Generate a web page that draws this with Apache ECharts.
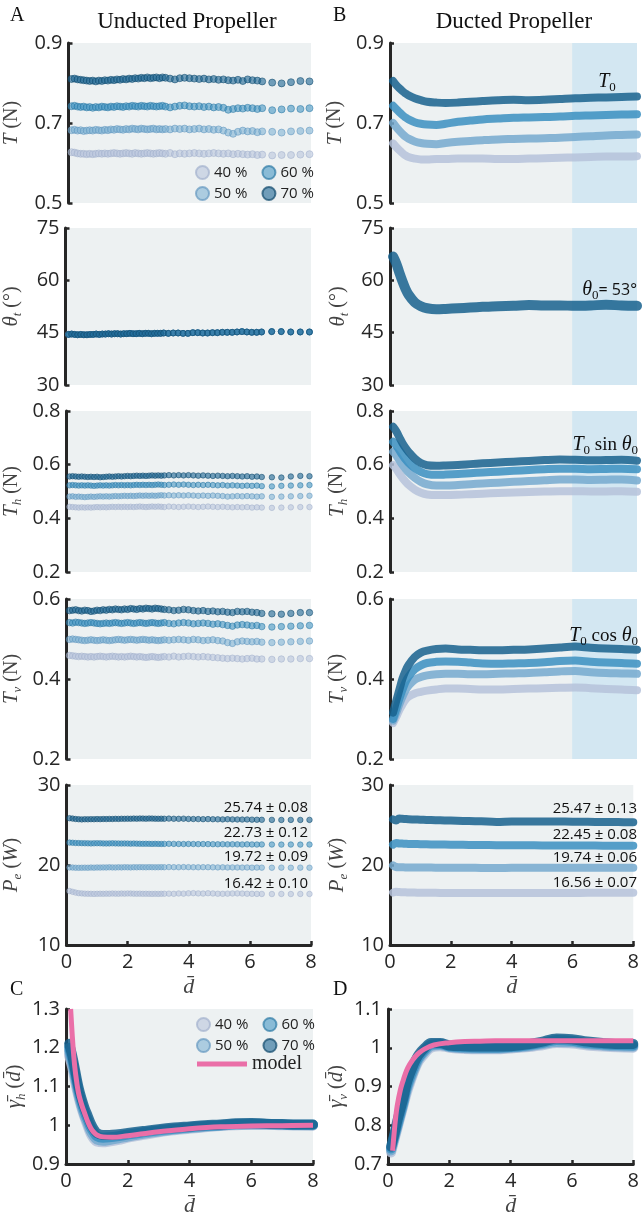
<!DOCTYPE html>
<html><head><meta charset="utf-8">
<script src="https://cdn.jsdelivr.net/npm/echarts@6/dist/echarts.min.js"></script>
<style>html,body{margin:0;padding:0;background:#fff}#c{width:642px;height:1218px}</style>
</head><body><div id="c"></div><script>
// ---------------- DATA ----------------
const seriesNames = ['40 %','50 %','60 %','70 %'];
const xTicks = [0,2,4,6,8];
const yTicksT = [0.5,0.7,0.9];
const yTicksTheta = [30,45,60,75];
const yTicksTh = [0.2,0.4,0.6,0.8];
const yTicksTv = [0.2,0.4,0.6];
const yTicksPe = [10,20,30];
const yTicksGh = [0.9,1,1.1,1.2,1.3];
const yTicksGv = [0.7,0.8,0.9,1,1.1];

// unducted sample positions (dense / medium / sparse)
const xU = [0.1,0.2,0.3,0.4,0.5,0.6,0.7,0.8,0.9,1.0,
  1.1,1.2,1.3,1.4,1.5,1.6,1.7,1.8,1.9,2.0,
  2.1,2.2,2.3,2.4,2.5,2.6,2.7,2.8,2.9,3.0,
  3.1,3.2,
  3.35,3.51,3.67,3.83,3.99,4.15,4.31,4.47,4.63,4.79,
  4.95,5.11,5.27,5.43,5.59,5.75,5.91,6.07,6.23,6.39,
  6.72,7.03,7.34,7.65,7.95];

const TU70 = [0.810,0.811,0.809,0.808,0.807,0.806,0.805,0.806,0.804,0.806,
  0.805,0.807,0.806,0.808,0.807,0.809,0.808,0.810,0.809,0.811,
  0.810,0.812,0.811,0.813,0.812,0.814,0.812,0.813,0.814,0.812,
  0.814,0.813,
  0.811,0.809,0.812,0.813,0.812,0.811,0.810,0.811,0.809,0.810,
  0.808,0.809,0.807,0.806,0.808,0.805,0.809,0.807,0.806,0.804,
  0.801,0.799,0.802,0.805,0.804];
const TU60 = [0.742,0.743,0.741,0.740,0.741,0.739,0.740,0.738,0.740,0.739,
  0.741,0.740,0.739,0.741,0.740,0.742,0.741,0.740,0.742,0.741,
  0.743,0.742,0.741,0.743,0.742,0.741,0.743,0.742,0.741,0.742,
  0.743,0.741,
  0.739,0.741,0.743,0.744,0.742,0.741,0.742,0.740,0.741,0.739,
  0.740,0.738,0.733,0.735,0.737,0.736,0.738,0.737,0.735,0.737,
  0.732,0.734,0.736,0.735,0.737];
const TU50 = [0.682,0.683,0.681,0.682,0.680,0.681,0.682,0.681,0.683,0.682,
  0.681,0.683,0.682,0.684,0.683,0.685,0.684,0.683,0.685,0.684,
  0.686,0.685,0.684,0.686,0.685,0.684,0.685,0.686,0.684,0.685,
  0.684,0.685,
  0.684,0.686,0.685,0.686,0.684,0.685,0.686,0.684,0.685,0.683,
  0.684,0.681,0.676,0.673,0.678,0.681,0.679,0.680,0.677,0.679,
  0.678,0.676,0.679,0.680,0.681];
const TU40 = [0.627,0.626,0.624,0.623,0.623,0.622,0.623,0.622,0.623,0.624,
  0.623,0.624,0.623,0.624,0.625,0.624,0.623,0.624,0.625,0.624,
  0.623,0.625,0.624,0.623,0.624,0.625,0.624,0.623,0.624,0.625,
  0.624,0.623,
  0.625,0.622,0.624,0.623,0.624,0.625,0.624,0.623,0.624,0.625,
  0.624,0.623,0.624,0.622,0.623,0.622,0.621,0.622,0.620,0.621,
  0.619,0.620,0.620,0.621,0.622];

const thetaU = [44.5,44.6,44.5,44.4,44.5,44.4,44.4,44.5,44.5,44.6,
  44.5,44.6,44.6,44.7,44.6,44.7,44.7,44.6,44.7,44.7,
  44.8,44.7,44.7,44.8,44.7,44.8,44.8,44.7,44.8,44.8,
  44.8,44.9,
  44.8,44.9,44.9,44.8,44.8,45.0,45.0,44.9,44.9,45.0,
  45.0,45.1,45.1,45.1,45.2,45.3,45.2,45.1,45.1,45.2,
  45.3,45.3,45.2,45.2,45.2];

const ThU70 = [0.556,0.557,0.556,0.555,0.556,0.555,0.554,0.555,0.554,0.555,
  0.553,0.554,0.555,0.556,0.555,0.556,0.557,0.556,0.557,0.558,
  0.557,0.558,0.559,0.558,0.559,0.558,0.559,0.560,0.559,0.560,
  0.559,0.560,
  0.561,0.560,0.561,0.560,0.561,0.560,0.559,0.560,0.559,0.558,
  0.559,0.558,0.557,0.558,0.557,0.556,0.557,0.555,0.556,0.554,
  0.553,0.552,0.556,0.558,0.557];
const ThU60 = [0.523,0.524,0.523,0.522,0.523,0.522,0.523,0.522,0.521,0.522,
  0.523,0.522,0.523,0.522,0.523,0.524,0.523,0.524,0.523,0.524,
  0.523,0.524,0.525,0.524,0.525,0.524,0.525,0.524,0.525,0.526,
  0.525,0.524,
  0.525,0.526,0.525,0.526,0.525,0.524,0.525,0.524,0.525,0.524,
  0.523,0.524,0.522,0.523,0.522,0.521,0.522,0.521,0.522,0.520,
  0.519,0.521,0.522,0.523,0.524];
const ThU50 = [0.481,0.482,0.480,0.481,0.480,0.479,0.480,0.481,0.480,0.481,
  0.482,0.481,0.482,0.481,0.482,0.483,0.482,0.483,0.484,0.483,
  0.484,0.483,0.484,0.485,0.484,0.485,0.484,0.485,0.484,0.485,
  0.486,0.485,
  0.486,0.485,0.486,0.485,0.486,0.485,0.484,0.485,0.484,0.485,
  0.484,0.483,0.481,0.482,0.483,0.482,0.483,0.482,0.481,0.482,
  0.480,0.481,0.482,0.483,0.484];
const ThU40 = [0.443,0.442,0.441,0.440,0.441,0.440,0.441,0.440,0.441,0.442,
  0.441,0.442,0.441,0.442,0.443,0.442,0.443,0.442,0.443,0.442,
  0.443,0.442,0.443,0.444,0.443,0.442,0.443,0.444,0.443,0.444,
  0.443,0.442,
  0.444,0.443,0.442,0.443,0.444,0.443,0.442,0.443,0.444,0.443,
  0.442,0.443,0.442,0.441,0.442,0.441,0.442,0.440,0.441,0.440,
  0.439,0.440,0.441,0.442,0.442];

const TvU70 = [0.571,0.572,0.573,0.571,0.570,0.572,0.571,0.569,0.570,0.572,
  0.571,0.573,0.572,0.574,0.573,0.575,0.574,0.573,0.575,0.574,
  0.576,0.575,0.574,0.576,0.575,0.577,0.576,0.575,0.577,0.576,
  0.575,0.574,
  0.573,0.571,0.572,0.574,0.573,0.571,0.570,0.571,0.569,0.570,
  0.568,0.569,0.567,0.566,0.569,0.568,0.569,0.567,0.566,0.564,
  0.563,0.562,0.564,0.566,0.566];
const TvU60 = [0.541,0.540,0.542,0.541,0.540,0.539,0.540,0.541,0.540,0.539,
  0.538,0.539,0.540,0.539,0.540,0.541,0.540,0.539,0.540,0.541,
  0.540,0.539,0.540,0.541,0.540,0.539,0.540,0.541,0.540,0.539,
  0.540,0.541,
  0.539,0.538,0.540,0.541,0.540,0.538,0.539,0.540,0.539,0.537,
  0.538,0.536,0.534,0.532,0.535,0.536,0.535,0.533,0.534,0.531,
  0.530,0.531,0.532,0.533,0.534];
const TvU50 = [0.499,0.500,0.499,0.498,0.497,0.496,0.497,0.498,0.497,0.496,
  0.497,0.498,0.497,0.496,0.497,0.498,0.499,0.498,0.497,0.498,
  0.499,0.498,0.497,0.498,0.499,0.498,0.497,0.498,0.497,0.496,
  0.497,0.498,
  0.497,0.498,0.499,0.498,0.497,0.499,0.498,0.496,0.497,0.498,
  0.496,0.495,0.491,0.489,0.493,0.495,0.494,0.493,0.494,0.492,
  0.491,0.492,0.493,0.494,0.495];
const TvU40 = [0.459,0.458,0.457,0.456,0.457,0.456,0.455,0.456,0.455,0.456,
  0.457,0.456,0.455,0.456,0.457,0.456,0.455,0.456,0.455,0.456,
  0.457,0.456,0.455,0.456,0.455,0.454,0.455,0.456,0.455,0.454,
  0.455,0.456,
  0.455,0.457,0.455,0.456,0.457,0.456,0.455,0.456,0.455,0.454,
  0.453,0.452,0.451,0.452,0.451,0.450,0.451,0.452,0.450,0.450,
  0.449,0.450,0.450,0.451,0.451];

const PeU70 = [25.85,25.80,25.75,25.72,25.70,25.72,25.71,25.73,25.72,25.74,
  25.73,25.75,25.74,25.76,25.75,25.77,25.76,25.78,25.77,25.79,
  25.78,25.80,25.79,25.81,25.80,25.79,25.81,25.80,25.79,25.78,
  25.79,25.78,
  25.80,25.78,25.77,25.79,25.76,25.75,25.74,25.73,25.74,25.72,
  25.71,25.70,25.72,25.70,25.69,25.68,25.69,25.67,25.66,25.65,
  25.64,25.63,25.64,25.63,25.64];
const PeU60 = [22.80,22.78,22.75,22.74,22.73,22.72,22.71,22.70,22.71,22.72,
  22.71,22.70,22.69,22.70,22.71,22.70,22.69,22.68,22.69,22.68,
  22.67,22.68,22.67,22.66,22.65,22.66,22.65,22.64,22.65,22.64,
  22.63,22.64,
  22.65,22.64,22.63,22.62,22.63,22.62,22.61,22.62,22.61,22.60,
  22.59,22.60,22.58,22.59,22.58,22.57,22.58,22.57,22.56,22.57,
  22.56,22.55,22.56,22.55,22.56];
const PeU50 = [19.70,19.68,19.66,19.65,19.66,19.67,19.66,19.68,19.67,19.69,
  19.68,19.70,19.69,19.71,19.70,19.69,19.71,19.70,19.72,19.71,
  19.70,19.72,19.71,19.73,19.72,19.71,19.73,19.72,19.71,19.72,
  19.73,19.72,
  19.74,19.73,19.72,19.74,19.73,19.72,19.71,19.73,19.72,19.71,
  19.70,19.71,19.69,19.70,19.69,19.68,19.69,19.67,19.68,19.67,
  19.66,19.67,19.66,19.67,19.66];
const PeU40 = [16.75,16.65,16.55,16.48,16.45,16.42,16.41,16.40,16.39,16.40,
  16.41,16.40,16.42,16.41,16.43,16.42,16.41,16.43,16.42,16.44,
  16.43,16.42,16.41,16.42,16.40,16.41,16.40,16.39,16.40,16.39,
  16.40,16.41,
  16.42,16.40,16.44,16.42,16.46,16.48,16.45,16.43,16.47,16.44,
  16.41,16.40,16.42,16.44,16.45,16.43,16.41,16.40,16.39,16.38,
  16.37,16.38,16.37,16.38,16.38];

// ducted sample positions
const xD = [0.1,0.2,0.3,0.4,0.5,0.6,0.8,1.0,1.2,1.5,
  1.8,2.2,2.6,3.0,3.5,4.0,4.5,5.0,5.5,6.0,
  6.5,7.0,7.5,8.0];
const TD70 = [0.805,0.795,0.787,0.780,0.774,0.769,0.762,0.757,0.753,0.751,0.750,0.751,0.753,0.755,0.757,0.758,0.757,0.758,0.760,0.762,0.763,0.764,0.765,0.766];
const TD60 = [0.743,0.735,0.727,0.720,0.714,0.709,0.702,0.698,0.696,0.695,0.698,0.703,0.706,0.709,0.711,0.713,0.714,0.715,0.716,0.718,0.719,0.720,0.721,0.722];
const TD50 = [0.700,0.690,0.681,0.673,0.666,0.661,0.654,0.650,0.648,0.647,0.650,0.653,0.655,0.657,0.659,0.660,0.661,0.662,0.663,0.665,0.667,0.669,0.670,0.671];
const TD40 = [0.649,0.640,0.632,0.625,0.619,0.615,0.611,0.609,0.609,0.610,0.610,0.611,0.611,0.611,0.610,0.610,0.611,0.612,0.613,0.614,0.615,0.616,0.616,0.617];
const thetaD = [66.8,64.9,62.3,59.8,57.6,55.9,53.7,52.6,52.0,51.7,51.8,52.0,52.2,52.4,52.6,52.7,52.9,52.8,52.8,52.7,52.8,53.0,52.8,52.7];
const ThD70 = [0.741,0.725,0.703,0.681,0.663,0.648,0.623,0.606,0.598,0.596,0.597,0.599,0.602,0.605,0.608,0.611,0.614,0.617,0.619,0.618,0.616,0.617,0.618,0.615];
const ThD60 = [0.685,0.672,0.654,0.636,0.620,0.607,0.587,0.573,0.565,0.562,0.563,0.565,0.568,0.571,0.574,0.577,0.580,0.583,0.585,0.585,0.583,0.584,0.585,0.583];
const ThD50 = [0.648,0.635,0.617,0.600,0.585,0.571,0.551,0.536,0.527,0.522,0.522,0.524,0.527,0.530,0.533,0.536,0.539,0.542,0.545,0.545,0.543,0.544,0.545,0.541];
const ThD40 = [0.598,0.585,0.567,0.551,0.537,0.525,0.507,0.495,0.489,0.487,0.487,0.488,0.490,0.492,0.494,0.496,0.498,0.500,0.501,0.501,0.500,0.500,0.501,0.499];
const TvD70 = [0.316,0.345,0.372,0.400,0.420,0.435,0.455,0.466,0.471,0.475,0.476,0.474,0.473,0.472,0.472,0.473,0.474,0.476,0.479,0.481,0.478,0.476,0.475,0.473];
const TvD60 = [0.300,0.325,0.350,0.372,0.392,0.406,0.424,0.434,0.440,0.443,0.444,0.443,0.441,0.439,0.438,0.439,0.440,0.442,0.445,0.446,0.443,0.441,0.440,0.438];
const TvD50 = [0.296,0.315,0.336,0.355,0.372,0.383,0.398,0.405,0.409,0.412,0.413,0.413,0.412,0.412,0.413,0.414,0.415,0.417,0.419,0.420,0.417,0.415,0.414,0.413];
const TvD40 = [0.290,0.305,0.322,0.336,0.348,0.356,0.364,0.368,0.371,0.374,0.376,0.376,0.375,0.374,0.374,0.375,0.376,0.377,0.378,0.379,0.377,0.375,0.374,0.372];
const PeD70 = [25.70,25.55,25.80,25.78,25.75,25.72,25.69,25.66,25.63,25.60,25.57,25.53,25.50,25.46,25.38,25.44,25.45,25.44,25.43,25.42,25.40,25.38,25.36,25.35];
const PeD60 = [22.55,22.75,22.70,22.68,22.66,22.64,22.62,22.60,22.58,22.56,22.55,22.53,22.51,22.50,22.48,22.47,22.46,22.45,22.45,22.44,22.43,22.42,22.41,22.40];
const PeD50 = [19.95,19.75,19.72,19.71,19.70,19.70,19.69,19.68,19.68,19.67,19.66,19.66,19.65,19.64,19.62,19.65,19.66,19.66,19.67,19.67,19.66,19.66,19.65,19.65];
const PeD40 = [16.55,16.65,16.62,16.60,16.58,16.57,16.55,16.54,16.53,16.52,16.51,16.50,16.50,16.49,16.49,16.50,16.50,16.50,16.51,16.51,16.52,16.52,16.53,16.52];

const peLabelsU = ['16.42 ± 0.10','19.72 ± 0.09','22.73 ± 0.12','25.74 ± 0.08'];
const peLabelsD = ['16.56 ± 0.07','19.74 ± 0.06','22.45 ± 0.08','25.47 ± 0.13'];

// normalised gamma panels
const xG = [0.1,0.2,0.3,0.4,0.5,0.6,0.7,0.8,0.9,1.0,1.2,1.4,1.7,2.0,2.5,3.0,3.5,4.0,4.5,5.0,5.5,6.0,6.5,7.0,7.5,8.0];
const gH70 = [1.21,1.18,1.14,1.10,1.07,1.045,1.025,1.005,0.99,0.98,0.975,0.975,0.977,0.98,0.985,0.99,0.994,0.997,1.0,1.002,1.005,1.006,1.004,1.003,1.002,1.002];
const gH60 = [1.20,1.17,1.13,1.09,1.06,1.035,1.015,0.995,0.982,0.972,0.968,0.969,0.972,0.976,0.982,0.987,0.991,0.995,0.998,1.000,1.003,1.004,1.003,1.002,1.001,1.001];
const gH50 = [1.19,1.16,1.12,1.08,1.05,1.025,1.005,0.985,0.972,0.963,0.960,0.962,0.966,0.971,0.978,0.984,0.989,0.993,0.996,0.999,1.001,1.002,1.002,1.001,1.000,1.000];
const gH40 = [1.18,1.15,1.11,1.075,1.045,1.02,0.998,0.978,0.965,0.958,0.956,0.958,0.962,0.968,0.975,0.982,0.987,0.991,0.995,0.998,1.000,1.001,1.001,1.000,1.000,0.999];
const gV70 = [0.745,0.775,0.81,0.84,0.87,0.905,0.93,0.95,0.968,0.982,1.0,1.012,1.012,1.006,1.004,1.003,1.003,1.004,1.008,1.015,1.024,1.022,1.016,1.012,1.010,1.010];
const gV60 = [0.74,0.77,0.80,0.83,0.86,0.895,0.92,0.94,0.96,0.975,0.995,1.008,1.010,1.004,1.001,1.000,1.000,1.002,1.006,1.012,1.020,1.018,1.012,1.009,1.007,1.006];
const gV50 = [0.735,0.765,0.795,0.825,0.855,0.888,0.912,0.933,0.953,0.97,0.99,1.004,1.007,1.002,0.999,0.998,0.998,1.000,1.003,1.009,1.015,1.014,1.009,1.006,1.004,1.003];
const gV40 = [0.73,0.76,0.79,0.82,0.85,0.88,0.905,0.928,0.948,0.965,0.985,1.0,1.004,1.0,0.997,0.996,0.996,0.998,1.001,1.006,1.012,1.011,1.006,1.003,1.001,1.0];
const xM = [0.15,0.2,0.25,0.3,0.4,0.5,0.6,0.7,0.8,0.9,1.0,1.2,1.5,2.0,2.5,3.0,3.5,4.0,5.0,6.0,7.0,8.0];
const modelH = [1.30,1.235,1.18,1.14,1.085,1.055,1.032,1.01,0.993,0.982,0.975,0.970,0.969,0.973,0.978,0.983,0.987,0.991,0.996,0.998,0.999,1.0];
const modelV = [0.734,0.78,0.82,0.85,0.89,0.917,0.94,0.956,0.968,0.978,0.986,0.997,1.007,1.013,1.016,1.017,1.018,1.018,1.018,1.018,1.018,1.018];
const steadyRange = [5.9, 8];

// ---------------- STYLE ----------------
const COL = {
  '40 %': {fill:'rgba(181,194,219,0.7)', edge:'rgba(160,175,203,0.85)', line:'#b5c2da'},
  '50 %': {fill:'rgba(122,174,211,0.7)', edge:'rgba(96,150,190,0.85)', line:'#74a9cf'},
  '60 %': {fill:'rgba(58,144,193,0.7)', edge:'rgba(40,118,163,0.85)', line:'#3a8fc1'},
  '70 %': {fill:'rgba(28,101,146,0.75)', edge:'rgba(18,75,110,0.9)', line:'#17618e'}
};
const SERIF = 'Liberation Serif';
const SANS = 'Open Sans';
const AX = '#262626';
const NAMEC = '#444';
const RICH = {
  i:{fontFamily:SERIF, fontStyle:'italic', fontSize:21, lineHeight:26, color:NAMEC},
  n:{fontFamily:SERIF, fontSize:20, lineHeight:26, color:NAMEC},
  s:{fontFamily:SERIF, fontStyle:'italic', fontSize:13, lineHeight:15, verticalAlign:'bottom', color:NAMEC},
  s0:{fontFamily:SERIF, fontSize:13, lineHeight:15, verticalAlign:'bottom', color:'#111'},
  m:{fontFamily:SERIF, fontStyle:'italic', fontSize:20, lineHeight:24, color:'#111'},
  r:{fontFamily:SERIF, fontSize:19, lineHeight:24, color:'#111'},
  t:{fontFamily:SANS, fontSize:16, lineHeight:24, color:'#111'}
};

const rowsTop = [43,228,411,599,785];
const rowsH = [160,157,161,160,160];
const grids = [];
for (let r=0;r<5;r++){
  grids.push({left:65, top:rowsTop[r], width:246, height:rowsH[r]});
  grids.push({left:390, top:rowsTop[r], width:247, height:rowsH[r]});
}
grids.push({left:66, top:1009, width:247, height:162});
grids.push({left:388, top:1009, width:248, height:162});
grids.forEach(g=>{g.show=true; g.backgroundColor='#edf1f2'; g.borderWidth=0; g.containLabel=false;});

function xAx(g, show){
  return {type:'value', gridIndex:g, min:0, max:8, interval:2, show:show,
    axisLine:{show:true, onZero:false, lineStyle:{color:AX, width:3}},
    axisTick:{show:true, inside:true, length:4, customValues:xTicks, lineStyle:{color:AX, width:2.5}},
    axisLabel:{customValues:xTicks, fontFamily:SANS, fontSize:20, color:AX, margin:7},
    splitLine:{show:false},
    name: show ? 'd\u0304' : '', nameLocation:'middle', nameGap:31,
    nameTextStyle:{fontFamily:SERIF, fontStyle:'italic', fontSize:22, color:NAMEC}};
}
function yAx(g, min, max, ticks, name, gap){
  return {type:'value', gridIndex:g, min:min, max:max,
    axisLine:{show:true, onZero:false, lineStyle:{color:AX, width:3}},
    axisTick:{show:true, inside:true, length:4, customValues:ticks, lineStyle:{color:AX, width:2.5}},
    axisLabel:{customValues:ticks, fontFamily:SANS, fontSize:20, color:AX, margin:6},
    splitLine:{show:false},
    name:name, nameLocation:'middle', nameGap:gap,
    nameTextStyle:{fontFamily:SERIF, fontSize:20, color:NAMEC, rich:RICH}};
}

const xAxes = [], yAxes = [];
for (let g=0; g<12; g++) xAxes.push(xAx(g, g>=8));
const nT = '{i|T} {n|(N)}';
const nTh = '{i|θ}{s|t} {n|(°)}';
const nTh2 = '{i|T}{s|h} {n|(N)}';
const nTv = '{i|T}{s|v} {n|(N)}';
const nPe = '{i|P}{s|e} {n|(}{i|W}{n|)}';
yAxes.push(yAx(0,0.5,0.9,yTicksT,nT,44));
yAxes.push(yAx(1,0.5,0.9,yTicksT,nT,42));
yAxes.push(yAx(2,30,75,yTicksTheta,nTh,41));
yAxes.push(yAx(3,30,75,yTicksTheta,nTh,39));
yAxes.push(yAx(4,0.2,0.8,yTicksTh,nTh2,42));
yAxes.push(yAx(5,0.2,0.8,yTicksTh,nTh2,40));
yAxes.push(yAx(6,0.2,0.6,yTicksTv,nTv,42));
yAxes.push(yAx(7,0.2,0.6,yTicksTv,nTv,40));
yAxes.push(yAx(8,10,30,yTicksPe,nPe,42));
yAxes.push(yAx(9,10,30,yTicksPe,nPe,40));
yAxes.push(yAx(10,0.9,1.3,yTicksGh,'{i|γ\u0304}{s|h} {n|(}{i|d\u0304}{n|)}',38));
yAxes.push(yAx(11,0.7,1.1,yTicksGv,'{i|γ\u0304}{s|v} {n|(}{i|d\u0304}{n|)}',38));

const series = [];
function unducted(g, arrs, size){
  arrs.forEach((ys,k)=>{
    const nm = seriesNames[k];
    series.push({type:'scatter', name:nm, xAxisIndex:g, yAxisIndex:g, symbol:'circle', symbolSize:size,
      data:xU.map((x,i)=>[x, ys[i]]), silent:true, z:2+k,
      itemStyle:{color:COL[nm].fill, borderColor:COL[nm].edge, borderWidth:0.8}});
  });
}
function ducted(g, xs, arrs, width, names){
  arrs.forEach((ys,k)=>{
    const nm = names ? names[k] : seriesNames[k];
    series.push({type:'line', name:nm, xAxisIndex:g, yAxisIndex:g, smooth:0.35, showSymbol:false,
      data:xs.map((x,i)=>[x, ys[i]]), silent:true, z:2+k,
      lineStyle:{color:COL[nm].line, width:width, opacity:0.85, cap:'round', join:'round'},
      itemStyle:{color:COL[nm].line}});
  });
}
function shade(g){
  series.push({type:'line', xAxisIndex:g, yAxisIndex:g, data:[], silent:true, z:1,
    markArea:{silent:true, itemStyle:{color:'#d3e7f2'}, data:[[{xAxis:steadyRange[0]},{xAxis:steadyRange[1]}]]}});
}

unducted(0, [TU40,TU50,TU60,TU70], 7);
unducted(2, [thetaU,thetaU,thetaU,thetaU], 6);
unducted(4, [ThU40,ThU50,ThU60,ThU70], 5.5);
unducted(6, [TvU40,TvU50,TvU60,TvU70], 6.5);
unducted(8, [PeU40,PeU50,PeU60,PeU70], 5.5);
[1,3,5,7].forEach(shade);
ducted(1, xD, [TD40,TD50,TD60,TD70], 8);
ducted(3, xD, [thetaD], 10, ['70 %']);
ducted(5, xD, [ThD40,ThD50,ThD60,ThD70], 8);
ducted(7, xD, [TvD40,TvD50,TvD60,TvD70], 8);
ducted(9, xD, [PeD40,PeD50,PeD60,PeD70], 8);
ducted(10, xG, [gH40,gH50,gH60,gH70], 10);
ducted(11, xG, [gV40,gV50,gV60,gV70], 10);
series.push({type:'line', name:'model', xAxisIndex:10, yAxisIndex:10, smooth:0.4, showSymbol:false, silent:true, z:10,
  data:xM.map((x,i)=>[x, modelH[i]]), lineStyle:{color:'#ea6fa8', width:5}, itemStyle:{color:'#ea6fa8'}});
series.push({type:'line', name:'model', xAxisIndex:11, yAxisIndex:11, smooth:0.4, showSymbol:false, silent:true, z:10,
  data:xM.map((x,i)=>[x, modelV[i]]), lineStyle:{color:'#ea6fa8', width:5}, itemStyle:{color:'#ea6fa8'}});

const legBase = {icon:'circle', itemWidth:13, itemHeight:13, itemGap:14, selectedMode:false, padding:0,
  textStyle:{fontFamily:SANS, fontSize:15, color:'#222'}};
const legend = [
  Object.assign({}, legBase, {data:['40 %','60 %'], left:195, top:165}),
  Object.assign({}, legBase, {data:['50 %','70 %'], left:195, top:186}),
  Object.assign({}, legBase, {data:['40 %','60 %'], left:196, top:1017}),
  Object.assign({}, legBase, {data:['50 %','70 %'], left:196, top:1038}),
  {data:['model'], left:197, top:1054, icon:'rect', itemWidth:50, itemHeight:5, itemGap:10, selectedMode:false, padding:0,
   textStyle:{fontFamily:SERIF, fontSize:20, color:'#222'}}
];

function txt(x, y, text, font, align, extra){
  return Object.assign({type:'text', x:x, y:y, silent:true, z:100,
    style:{text:text, font:font, fill:'#111', align:align||'left', verticalAlign:'middle', rich:RICH}}, extra||{});
}
const graphic = [
  txt(10, 16, 'A', '20px "Liberation Serif"'),
  txt(187, 22, 'Unducted Propeller', '23px "Liberation Serif"', 'center'),
  txt(333, 16, 'B', '20px "Liberation Serif"'),
  txt(514, 22, 'Ducted Propeller', '23px "Liberation Serif"', 'center'),
  txt(10, 990, 'C', '20px "Liberation Serif"'),
  txt(333, 990, 'D', '20px "Liberation Serif"'),
  txt(607, 82, '{m|T}{s0|0}', '20px "Liberation Serif"', 'center'),
  txt(637, 290, '{m|θ}{s0|0}{t|= 53°}', '20px "Liberation Serif"', 'right'),
  txt(638, 445, '{m|T}{s0|0}{r| sin }{m|θ}{s0|0}', '20px "Liberation Serif"', 'right'),
  txt(638, 636, '{m|T}{s0|0}{r| cos }{m|θ}{s0|0}', '20px "Liberation Serif"', 'right')
];
const peYU = [884, 857, 833, 808];
const peYD = [883, 858, 835, 809];
peLabelsU.forEach((t,k)=>graphic.push(txt(308, peYU[k], t, '15px "Open Sans"', 'right')));
peLabelsD.forEach((t,k)=>graphic.push(txt(637, peYD[k], t, '15px "Open Sans"', 'right')));

const chart = echarts.init(document.getElementById('c'), null, {renderer:'canvas'});
chart.setOption({
  animation:false,
  backgroundColor:'#ffffff',
  grid:grids, xAxis:xAxes, yAxis:yAxes, series:series, legend:legend, graphic:graphic
});
</script></body></html>
